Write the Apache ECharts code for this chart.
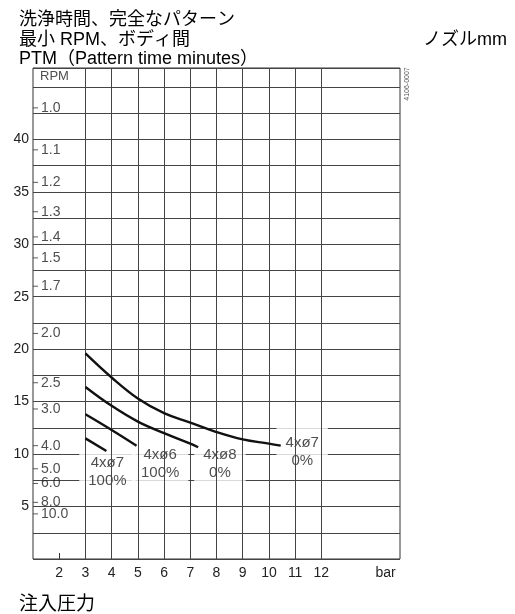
<!DOCTYPE html>
<html>
<head>
<meta charset="utf-8">
<script src="https://cdn.jsdelivr.net/npm/echarts@6/dist/echarts.min.js"></script>
<style>html,body{margin:0;padding:0;background:#fff}#c{width:515px;height:614px}</style>
</head>
<body>
<div id="c"></div>
<script>
// ---- data ----
const xTickLabels = [2, 3, 4, 5, 6, 7, 8, 9, 10, 11, 12];
const xUnitPos = 14.45;
const xUnitLabel = 'bar';
const xGridLines = [3, 4, 5, 6, 7, 8, 9, 10, 11, 12];
const yTickLabels = [5, 10, 15, 20, 25, 30, 35, 40];
const rpmLabels = ['1.0', '1.1', '1.2', '1.3', '1.4', '1.5', '1.7', '2.0', '2.5', '3.0', '4.0', '5.0', '6.0', '8.0', '10.0'];
const rpmPos = [43.0, 39.0, 35.9, 33.1, 30.7, 28.7, 26.0, 21.5, 16.8, 14.3, 10.8, 8.6, 7.2, 5.4, 4.3];
const curve7_0 = [[3, 19.6], [4, 17.3], [5, 15.3], [6, 13.9], [7, 13.0], [8, 12.1], [9, 11.4], [10, 11.0], [10.45, 10.8]];
const curve8_0 = [[3, 16.4], [4, 14.6], [5, 13.1], [6, 12.0], [7, 11.0], [7.3, 10.65]];
const curve6_100 = [[3, 13.8], [4, 12.3], [4.95, 10.8]];
const curve7_100 = [[3, 11.5], [3.8, 10.3]];
const curveLabels = [
  [3.84, 8.3, '4xø7\n100%'],
  [5.85, 9.1, '4xø6\n100%'],
  [8.13, 9.1, '4xø8\n0%'],
  [11.27, 10.2, '4xø7\n0%']
];
const titleLines = ['洗浄時間、完全なパターン', '最小 RPM、ボディ間', 'PTM（Pattern time minutes）'];
const unitTitle = 'ノズルmm';
const xTitle = '注入圧力';
const docCode = '4106-0007';

const FF = '"Liberation Sans", Arial, "Noto Sans CJK JP", sans-serif';
const chart = echarts.init(document.getElementById('c'));

function curve(d) {
  return {
    type: 'line', data: d, smooth: 0.4, symbol: 'none', z: 5,
    lineStyle: { color: '#111', width: 2.4 }
  };
}

chart.setOption({
  animation: false,
  textStyle: { fontFamily: FF },
  title: [
    { text: titleLines[0], left: 14, top: 6, textStyle: { fontSize: 18, fontWeight: 'normal', color: '#000', fontFamily: FF } },
    { text: titleLines[1], left: 14, top: 26, textStyle: { fontSize: 18, fontWeight: 'normal', color: '#000', fontFamily: FF } },
    { text: titleLines[2], left: 14, top: 45, textStyle: { fontSize: 18, fontWeight: 'normal', color: '#000', fontFamily: FF } },
    { text: unitTitle, left: 418, top: 26, textStyle: { fontSize: 18, fontWeight: 'normal', color: '#000', fontFamily: FF } },
    { text: xTitle, left: 14, top: 590, textStyle: { fontSize: 19, fontWeight: 'normal', color: '#000', fontFamily: FF } }
  ],
  grid: { left: 33, right: 115, top: 68, bottom: 55, show: true, borderColor: '#333', borderWidth: 1, backgroundColor: 'transparent' },
  xAxis: {
    type: 'value', min: 1, max: 15, interval: 1,
    axisLine: { show: false },
    splitLine: { show: false },
    axisTick: { show: true, inside: true, length: 6, customValues: [2], lineStyle: { color: '#333' } },
    axisLabel: {
      customValues: xTickLabels.concat([xUnitPos]),
      formatter: v => (v > 13 ? xUnitLabel : String(v)),
      color: '#222', fontSize: 14, margin: 7, fontFamily: FF
    }
  },
  yAxis: {
    type: 'value', min: 0, max: 46.8, interval: 2.5,
    axisLine: { show: false },
    axisTick: { show: false },
    axisLabel: {
      formatter: v => (yTickLabels.indexOf(v) >= 0 ? String(v) : ''),
      color: '#222', fontSize: 14, margin: 4, fontFamily: FF
    },
    splitLine: { show: true, lineStyle: { color: '#444', width: 1 } }
  },
  series: [
    {
      type: 'line', data: [], z: 1,
      markLine: {
        silent: true, symbol: 'none', label: { show: false },
        lineStyle: { color: '#444', type: 'solid', width: 1 },
        data: xGridLines.map(x => ({ xAxis: x }))
      }
    },
    {
      type: 'scatter', z: 3,
      data: curveLabels,
      symbolSize: 0,
      label: {
        show: true, position: 'inside',
        formatter: p => p.data[2],
        color: '#222', fontSize: 15, lineHeight: 18, fontFamily: FF,
        backgroundColor: '#fff', padding: [6, 9, 8, 9], align: 'center'
      }
    },
    {
      type: 'scatter', z: 4,
      data: rpmPos.map((p, i) => [1, p, rpmLabels[i]]),
      symbol: 'rect', symbolSize: [5, 1], symbolOffset: [2.5, 0],
      itemStyle: { color: '#333' },
      label: {
        show: true, position: 'right', distance: 3,
        formatter: p => p.data[2],
        color: '#222', fontSize: 14, fontFamily: FF
      }
    },
    {
      type: 'scatter', z: 4,
      data: [[1, 46.0, 'RPM']],
      symbolSize: 0,
      label: { show: true, position: 'right', distance: 7, formatter: p => p.data[2], color: '#222', fontSize: 13, fontFamily: FF }
    },
    curve(curve7_0),
    curve(curve8_0),
    curve(curve6_100),
    curve(curve7_100)
  ],
  graphic: [
    {
      type: 'text', x: 407, y: 84, rotation: Math.PI / 2,
      style: { text: docCode, fontSize: 7, fill: '#555', align: 'center', verticalAlign: 'middle', fontFamily: FF }
    }
  ]
});
</script>
</body>
</html>
